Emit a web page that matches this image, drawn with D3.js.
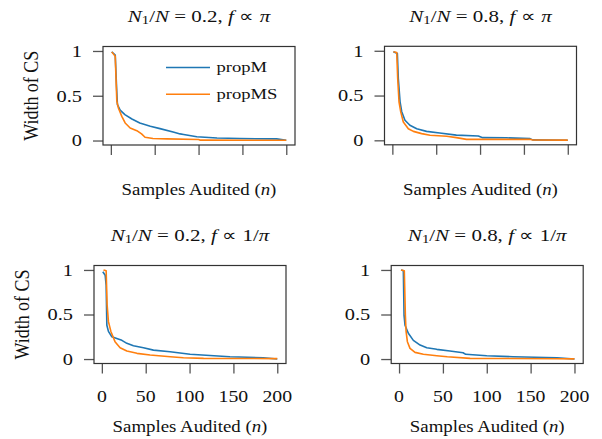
<!DOCTYPE html>
<html><head><meta charset="utf-8">
<script src="https://cdn.jsdelivr.net/npm/d3@7"></script>
<style>body{margin:0;background:#fff}</style>
</head><body>
<script>
// ---- data ----
const xTicks = [0, 50, 100, 150, 200];
const yTicks = [0, 0.5, 1];
const yTickLabels = ["0", "0.5", "1"];
const seriesNames = ["propM", "propMS"];
const colors = ["#1f77b4", "#ff7f0e"];
const titlesRatio = ["0.2", "0.8", "0.2", "0.8"];
const titlesF = ["π", "π", "1/π", "1/π"];

const tlPropM = [[1,0.99],[5,0.955],[6.5,0.6],[7.5,0.40],[10.6,0.34],[16,0.29],[24,0.24],[33,0.196],[45,0.16],[56,0.133],[71,0.096],[79,0.074],[83,0.067],[98,0.042],[121,0.028],[147,0.022],[189,0.018],[200,0.003]];
const tlPropMS = [[1,0.99],[5,0.94],[6.8,0.44],[8.7,0.36],[12.5,0.27],[16.3,0.196],[22,0.14],[29.6,0.11],[35,0.074],[39,0.037],[48,0.022],[64,0.018],[100,0.012],[102,0.004],[200,0.003]];
const trPropM = [[1.2,0.99],[5.7,0.97],[6.8,0.69],[8.8,0.43],[10.7,0.32],[14.4,0.224],[20,0.168],[27.8,0.13],[39,0.10],[54,0.082],[73,0.058],[98,0.048],[103,0.03],[130,0.028],[157,0.019],[160,0.005],[200,0.0]];
const trPropMS = [[1.2,0.99],[5,0.98],[6.1,0.69],[7.6,0.43],[9.5,0.32],[12.5,0.205],[18.2,0.13],[24,0.10],[33.4,0.075],[43,0.056],[62,0.045],[73,0.03],[84.6,0.011],[157,0.011],[160,0.003],[200,0.002]];
const blPropM = [[1.1,0.98],[3.8,0.94],[4.9,0.83],[5.7,0.38],[7.5,0.31],[11.4,0.25],[17,0.23],[22.8,0.21],[28.5,0.176],[36,0.15],[47.4,0.127],[58.8,0.10],[77.8,0.082],[100.6,0.053],[146,0.026],[184,0.015],[200,0.0]];
const blPropMS = [[1.9,1.0],[4.9,0.99],[6,0.61],[7.5,0.42],[10.3,0.31],[15,0.195],[20.8,0.127],[28.5,0.09],[40,0.064],[55,0.045],[78,0.026],[93,0.015],[116,0.008],[200,0.005]];
const brPropM = [[2.3,1.0],[4.9,0.99],[5.7,0.49],[6.8,0.38],[10.6,0.29],[16.3,0.21],[24,0.157],[31.6,0.127],[43,0.109],[58,0.09],[73,0.071],[76,0.053],[100,0.037],[130,0.026],[180,0.015],[200,0.0]];
const brPropMS = [[2.3,1.0],[6,0.99],[7.2,0.49],[8,0.31],[9.5,0.195],[12.5,0.12],[18.2,0.075],[27.7,0.053],[43,0.037],[55,0.026],[81,0.008],[180,0.003],[200,0.002]];

const panelData = [[tlPropM, tlPropMS],[trPropM, trPropMS],[blPropM, blPropMS],[brPropM, brPropMS]];

// ---- layout ----
const W = 602, H = 439;
const FAMILY = '"Liberation Serif"';
const SX = 1.2;
const panels = [
  {x:103, y:46.5, w:192, h:98.5, tickLabels:false, yLabel:true, legend:true},
  {x:384.5, y:46.3, w:192, h:98.5, tickLabels:false, yLabel:false, legend:false},
  {x:94, y:265.5, w:192, h:98, tickLabels:true, yLabel:true, legend:false},
  {x:391.2, y:265.5, w:192, h:98, tickLabels:true, yLabel:false, legend:false}
];

const svg = d3.select("body").append("svg").attr("width", W).attr("height", H);

function stretchedText(g, x, y, anchor, fs) {
  return g.append("text")
    .style("font-family", FAMILY)
    .attr("transform", `translate(${x},${y}) scale(${SX},1)`)
    .attr("text-anchor", anchor)
    .attr("dominant-baseline", "central")
    .attr("font-size", fs)
    .attr("fill", "#111");
}

panels.forEach((p, i) => {
  const g = svg.append("g");
  const x = d3.scaleLinear().domain([-8.95, 209.95]).range([p.x, p.x + p.w]);
  const y = d3.scaleLinear().domain([-0.05, 1.05]).range([p.y + p.h, p.y]);

  const xa = g.append("g").attr("transform", `translate(0,${p.y + p.h})`)
    .call(d3.axisBottom(x).tickValues(xTicks).tickSize(10).tickFormat(""));
  xa.select(".domain").remove();
  xa.selectAll("line").attr("stroke", "#555").attr("stroke-width", 1.3);
  const ya = g.append("g").attr("transform", `translate(${p.x},0)`)
    .call(d3.axisLeft(y).tickValues(yTicks).tickSize(10).tickFormat(""));
  ya.select(".domain").remove();
  ya.selectAll("line").attr("stroke", "#555").attr("stroke-width", 1.3);

  yTicks.forEach((t, k) => {
    stretchedText(g, p.x - 21, y(t), "end", 17).text(yTickLabels[k]);
  });
  if (p.tickLabels) {
    xTicks.forEach(t => {
      stretchedText(g, x(t), p.y + p.h + 33, "middle", 16.5).text(String(t));
    });
  }

  const line = d3.line().x(d => x(d[0])).y(d => y(d[1]));
  panelData[i].forEach((s, k) => {
    g.append("path").datum(s).attr("d", line)
      .attr("fill", "none").attr("stroke", colors[k]).attr("stroke-width", 1.6)
      .attr("stroke-linejoin", "round");
  });

  g.append("rect").attr("x", p.x).attr("y", p.y).attr("width", p.w).attr("height", p.h)
    .attr("fill", "none").attr("stroke", "#333").attr("stroke-width", 1.2);

  const cx = p.x + p.w / 2;
  const FT = 17.5;
  const tt = stretchedText(g, cx, p.y - 31, "middle", FT);
  tt.append("tspan").attr("font-style", "italic").text("N");
  tt.append("tspan").attr("font-size", FT * 0.7).attr("dy", 4).text("1");
  tt.append("tspan").attr("dy", -4).text("/");
  tt.append("tspan").attr("font-style", "italic").text("N");
  tt.append("tspan").text(" = " + titlesRatio[i] + ", ");
  tt.append("tspan").attr("font-style", "italic").text("f");
  tt.append("tspan").text(" ∝ ");
  const fParts = titlesF[i].split("π");
  if (fParts[0]) tt.append("tspan").text(fParts[0]);
  tt.append("tspan").attr("font-style", "italic").text("π");

  const xl = stretchedText(g, cx, p.tickLabels ? p.y + p.h + 63 : p.y + p.h + 45, "middle", 15.7);
  xl.append("tspan").text("Samples Audited (");
  xl.append("tspan").attr("font-style", "italic").text("n");
  xl.append("tspan").text(")");

  if (p.yLabel) {
    g.append("text")
      .style("font-family", FAMILY)
      .attr("transform", `translate(${p.x - 72},${p.y + p.h / 2}) rotate(-90) scale(1,1.15)`)
      .attr("text-anchor", "middle").attr("dominant-baseline", "central")
      .attr("font-size", 18).attr("fill", "#111").text("Width of CS");
  }

  if (p.legend) {
    seriesNames.forEach((nm, k) => {
      const ly = p.y + 21 + k * 26.7;
      g.append("line").attr("x1", p.x + 63).attr("x2", p.x + 107).attr("y1", ly).attr("y2", ly)
        .attr("stroke", colors[k]).attr("stroke-width", 1.6);
      stretchedText(g, p.x + 113.5, ly, "start", 15.5).text(nm);
    });
  }
});
</script>
</body></html>
